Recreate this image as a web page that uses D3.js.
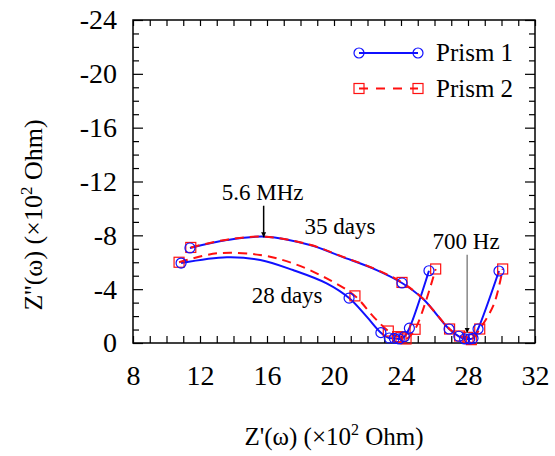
<!DOCTYPE html>
<html lang="en">
<head>
  <meta charset="UTF-8">
  <title>Nyquist plot</title>
  <style type="text/css">
    body { margin: 0px; background: #fff; }
    svg text { font-family: "Liberation Serif", "Times New Roman", Times, "DejaVu Serif", serif; fill: #000; }
    .domain { display: none; }
    .tick line { stroke: #000; stroke-width: 1.2; }
  </style>
  <script src="https://d3js.org/d3.v7.min.js"></script>
</head>
<body>
  <svg width="555" height="456"></svg>
  <script>
    // [Z', Z'', marker?]  (x10^2 Ohm)
    const prism1_35 = [
      [11.4, -7.06, 1], [13.6, -7.65, 0], [15.9, -7.9, 0], [18.57, -7.28, 0],
      [20.5, -6.4, 0], [22.55, -5.42, 0], [24.06, -4.46, 1], [25.3, -3.3, 0],
      [26.87, -1.04, 1], [27.45, -0.5, 1], [27.8, -0.3, 1], [28.1, -0.3, 1],
      [28.3, -0.35, 1], [28.6, -1.04, 1], [29.85, -5.35, 1]
    ];
    const prism2_35 = [
      [11.45, -7.1, 1], [13.6, -7.68, 0], [15.9, -7.9, 0], [18.57, -7.3, 0],
      [20.5, -6.42, 0], [22.55, -5.45, 0], [24.06, -4.5, 1], [25.3, -3.3, 0],
      [26.9, -1.04, 1], [27.5, -0.52, 1], [28.0, -0.42, 1], [28.2, -0.25, 1],
      [28.7, -1.04, 1], [29.55, -2.9, 0], [30.07, -5.5, 1]
    ];
    const prism1_28 = [
      [10.87, -5.94, 1], [13.6, -6.37, 0], [15.6, -6.17, 0], [17.55, -5.42, 0],
      [19.56, -4.43, 0], [20.9, -3.34, 1], [21.95, -1.96, 0], [22.8, -0.77, 1],
      [23.3, -0.37, 1], [23.6, -0.35, 1], [23.9, -0.3, 1], [24.2, -0.47, 1],
      [24.5, -1.1, 1], [25.67, -5.37, 1]
    ];
    const prism2_28 = [
      [10.75, -6.0, 1], [13.0, -6.66, 0], [15.58, -6.54, 0], [17.55, -5.92, 0],
      [19.56, -4.8, 0], [21.25, -3.5, 1], [22.35, -1.96, 0], [23.24, -0.89, 1],
      [23.8, -0.47, 1], [24.0, -0.42, 1], [24.3, -0.3, 1], [24.84, -1.02, 1],
      [26.07, -5.5, 1]
    ];

    const xMajor = [8, 12, 16, 20, 24, 28, 32];
    const yMajor = [0, -4, -8, -12, -16, -20, -24];
    const seriesNames = ['Prism 1', 'Prism 2'];

    // text labels placed in data coordinates
    const dayLabels = [
      { text: '35 days', x: 20.36, y: -8.1 },
      { text: '28 days', x: 17.2, y: -2.97 }
    ];
    const arrows = [
      { text: '5.6 MHz', x: 15.8, from: -10.2, to: -7.85, color: '#000' },
      { text: '700 Hz', x: 27.95, from: -6.55, to: -0.74, color: '#888' }
    ];

    const serif = '"Liberation Serif", "Times New Roman", Times, "DejaVu Serif", serif';

    const svg = d3.select('svg');
    const margin = { left: 133, right: 20, top: 20, bottom: 113 };
    const width = +svg.attr('width');
    const height = +svg.attr('height');

    const x = d3.scaleLinear().domain([8, 32]).range([margin.left, width - margin.right]);
    const y = d3.scaleLinear().domain([0, -24]).range([height - margin.bottom, margin.top]);
    const x0 = x.range()[0], x1 = x.range()[1];
    const y0 = y.range()[0], y1 = y.range()[1];

    const minorX = d3.range(8, 33, 1);
    const minorY = d3.range(0, -25, -1);

    // ticks: all inward
    svg.append('g').attr('transform', `translate(0,${y0})`)
      .call(d3.axisBottom(x).tickValues(minorX).tickSize(-7).tickFormat(''));
    svg.append('g').attr('transform', `translate(0,${y1})`)
      .call(d3.axisTop(x).tickValues(minorX).tickSize(-6).tickFormat(''));
    const yTick = d => (d % 4 === 0 ? -10 : -6);
    [['left', x0, d3.axisLeft], ['right', x1, d3.axisRight]].forEach(([side, px, ax]) => {
      const g = svg.append('g').attr('transform', `translate(${px},0)`)
        .call(ax(y).tickValues(minorY).tickFormat(''));
      g.selectAll('.tick line').attr('x2', d => side === 'left' ? -yTick(d) : yTick(d));
    });

    // tick labels
    const xl = svg.append('g').attr('class', 'tick-label')
      .attr('transform', `translate(0,${y0})`)
      .call(d3.axisBottom(x).tickValues(xMajor).tickSize(0).tickPadding(22).tickFormat(d => String(d)));
    const yl = svg.append('g').attr('class', 'tick-label')
      .attr('transform', `translate(${x0},0)`)
      .call(d3.axisLeft(y).tickValues(yMajor).tickSize(0).tickPadding(16).tickFormat(d => String(d)));
    [xl, yl].forEach(g => {
      g.attr('font-family', serif).attr('font-size', 28);
      g.selectAll('.tick line').remove();
      g.selectAll('text').attr('fill', '#000');
    });

    // frame
    svg.append('rect')
      .attr('x', x0).attr('y', y1)
      .attr('width', x1 - x0).attr('height', y0 - y1)
      .attr('fill', 'none').attr('stroke', '#000').attr('stroke-width', 1.5);

    // axis titles
    const xt = svg.append('text')
      .attr('x', (x0 + x1) / 2).attr('y', 445)
      .attr('text-anchor', 'middle').attr('font-size', 25).attr('font-family', serif);
    xt.append('tspan').text("Z'(\u03c9) (\u00d710");
    xt.append('tspan').attr('dy', -10).attr('font-size', 16).text('2');
    xt.append('tspan').attr('dy', 10).text(' Ohm)');

    const yt = svg.append('text')
      .attr('transform', 'translate(42,215) rotate(-90)')
      .attr('text-anchor', 'middle').attr('font-size', 26).attr('font-family', serif);
    yt.append('tspan').text("Z''(\u03c9) (\u00d710");
    yt.append('tspan').attr('dy', -10).attr('font-size', 17).text('2');
    yt.append('tspan').attr('dy', 10).text(' Ohm)');

    // curves
    const line = d3.line()
      .x(d => x(d[0])).y(d => y(d[1]))
      .curve(d3.curveCatmullRom.alpha(0.5));

    const blue = '#1010ff', red = '#ff1010';
    const drawLine = (data, color, dash) => svg.append('path')
      .datum(data).attr('d', line)
      .attr('fill', 'none').attr('stroke', color).attr('stroke-width', 2)
      .attr('stroke-dasharray', dash);

    drawLine(prism1_35, blue, null);
    drawLine(prism1_28, blue, null);
    drawLine(prism2_35, red, '9,6');
    drawLine(prism2_28, red, '9,6');

    const drawSquares = (data) => svg.append('g').selectAll('rect')
      .data(data.filter(d => d[2])).enter().append('rect')
      .attr('x', d => x(d[0]) - 5).attr('y', d => y(d[1]) - 5)
      .attr('width', 10).attr('height', 10)
      .attr('fill', 'none').attr('stroke', red).attr('stroke-width', 1.2);
    const drawCircles = (data) => svg.append('g').selectAll('circle')
      .data(data.filter(d => d[2])).enter().append('circle')
      .attr('cx', d => x(d[0])).attr('cy', d => y(d[1])).attr('r', 5)
      .attr('fill', 'none').attr('stroke', blue).attr('stroke-width', 1.2);

    drawSquares(prism2_35);
    drawSquares(prism2_28);
    drawCircles(prism1_35);
    drawCircles(prism1_28);

    // annotations
    svg.append('defs').append('marker')
      .attr('id', 'head').attr('viewBox', '0 0 10 10')
      .attr('refX', 10).attr('refY', 5)
      .attr('markerWidth', 5).attr('markerHeight', 8)
      .attr('markerUnits', 'userSpaceOnUse')
      .attr('orient', 'auto')
      .append('path').attr('d', 'M0,0L10,5L0,10z').attr('fill', '#000');

    arrows.forEach(a => {
      svg.append('line')
        .attr('x1', x(a.x)).attr('x2', x(a.x))
        .attr('y1', y(a.from)).attr('y2', y(a.to))
        .attr('stroke', a.color).attr('stroke-width', 1.5)
        .attr('marker-end', 'url(#head)');
      svg.append('text')
        .attr('x', x(a.x) - 1).attr('y', y(a.from) - 6)
        .attr('text-anchor', 'middle').attr('font-size', 23).attr('font-family', serif)
        .text(a.text);
    });

    dayLabels.forEach(l => {
      svg.append('text')
        .attr('x', x(l.x)).attr('y', y(l.y))
        .attr('text-anchor', 'middle').attr('font-size', 23).attr('font-family', serif)
        .text(l.text);
    });

    // legend
    const legend = svg.append('g').attr('transform', 'translate(359,53)');
    seriesNames.forEach((name, i) => {
      const g = legend.append('g').attr('transform', `translate(0,${i * 35.5})`);
      g.append('line').attr('x1', 0).attr('x2', 59)
        .attr('stroke', i ? red : blue).attr('stroke-width', 2)
        .attr('stroke-dasharray', i ? '9,8' : null);
      [0, 59].forEach(px => {
        if (i) {
          g.append('rect').attr('x', px - 5).attr('y', -5).attr('width', 10).attr('height', 10)
            .attr('fill', 'none').attr('stroke', red).attr('stroke-width', 1.2);
        } else {
          g.append('circle').attr('cx', px).attr('r', 5)
            .attr('fill', 'none').attr('stroke', blue).attr('stroke-width', 1.2);
        }
      });
      g.append('text').attr('x', 77).attr('y', 8).attr('font-size', 25)
        .attr('font-family', serif).text(name);
    });
  </script>
</body>
</html>
